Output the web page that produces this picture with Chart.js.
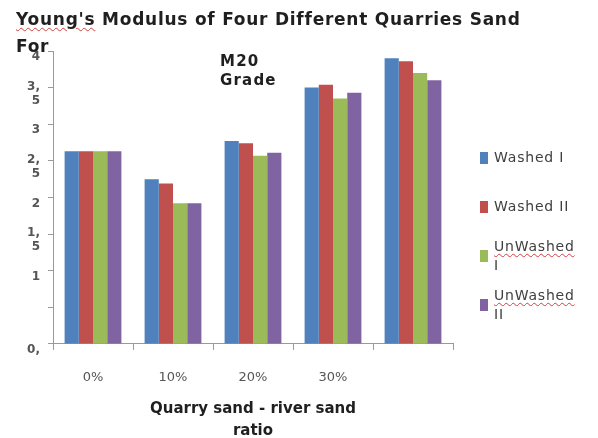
<!DOCTYPE html>
<html>
<head>
<meta charset="utf-8">
<script src="https://cdn.jsdelivr.net/npm/chart.js@4.4.1/dist/chart.umd.min.js"></script>
<style>
  html, body { margin: 0; padding: 0; background: #fff; }
  #wrap { position: relative; width: 598px; height: 438px; font-family: 'DejaVu Sans', sans-serif; color: #1f1f1f; }
  #wrap canvas { position: absolute; left: 0; top: 0; }
  .title { position: absolute; left: 16px; top: 6px; font-weight: bold; font-size: 17px; letter-spacing: 0.75px; line-height: 27px; white-space: nowrap; }
  .grade { position: absolute; left: 220px; top: 52px; font-weight: bold; font-size: 15px; letter-spacing: 1.2px; line-height: 19px; }
  .spell { text-decoration: underline wavy #d04040; text-decoration-thickness: 1px; text-underline-offset: 2px; }
  #legend { position: absolute; left: 480px; top: 133px; width: 118px; }
  .item { display: flex; align-items: center; height: 49px; }
  .box { width: 8px; height: 12px; margin-right: 6px; flex: none; }
  .txt { font-size: 14px; letter-spacing: 0.8px; line-height: 19px; color: #404040; white-space: nowrap; }
</style>
</head>
<body>
<div id="wrap">
  <canvas id="chart" width="598" height="438"></canvas>
  <div class="title"><span class="spell">Young's</span> Modulus of Four Different Quarries Sand<br>For</div>
  <div class="grade">M20<br>Grade</div>
  <div id="legend"></div>
</div>
<script>
// categories (the fifth label is cut off in the source)
const categories = ['0%', '10%', '20%', '30%', ''];
const seriesNames = ['Washed I', 'Washed II', 'UnWashed I', 'UnWashed II'];
const seriesColors = ['#4F81BD', '#C0504D', '#9BBB59', '#8064A2'];

// Young's modulus values per series
const washedI = [2.63, 2.25, 2.77, 3.50, 3.90];
const washedII = [2.63, 2.19, 2.74, 3.54, 3.86];
const unwashedI = [2.63, 1.92, 2.57, 3.35, 3.70];
const unwashedII = [2.63, 1.92, 2.61, 3.43, 3.60];

// y tick values and how they are printed
const yTickValues = [0, 0.5, 1, 1.5, 2, 2.5, 3, 3.5, 4];
const yTickLabels = ['0,', '', '1', '1,5', '2', '2,5', '3', '3,5', '4'];

const seriesValues = [washedI, washedII, unwashedI, unwashedII];

const chart = new Chart(document.getElementById('chart'), {
    type: 'bar',
    data: {
        labels: categories,
        datasets: seriesNames.map((name, i) => ({
            label: name,
            data: seriesValues[i],
            backgroundColor: seriesColors[i],
            borderWidth: 0,
            categoryPercentage: 0.71,
            barPercentage: 1.0
        }))
    },
    options: {
        responsive: false,
        animation: false,
        layout: {
            padding: { left: 8, right: 145, top: 51, bottom: -4 }
        },
        plugins: {
            legend: { display: false },
            tooltip: { enabled: false }
        },
        scales: {
            y: {
                min: 0,
                max: 4,
                afterFit: s => { s.width = 45; },
                afterBuildTicks: s => { s.ticks = yTickValues.map(v => ({ value: v })); },
                ticks: {
                    padding: 8,
                    labelOffset: 6,
                    color: '#555',
                    font: { family: 'DejaVu Sans', size: 12, weight: 'bold' },
                    callback: (v) => {
                        const t = yTickLabels[yTickValues.indexOf(v)] || '';
                        return t.length > 2 ? [t.slice(0, 2), t.slice(2)] : t;
                    }
                },
                grid: {
                    drawOnChartArea: false,
                    tickLength: 5,
                    color: '#999'
                },
                border: { color: '#999' }
            },
            x: {
                ticks: {
                    padding: 20,
                    color: '#555',
                    font: { family: 'DejaVu Sans', size: 13 }
                },
                grid: {
                    drawOnChartArea: false,
                    tickLength: 6,
                    color: '#999'
                },
                border: { color: '#999' },
                title: {
                    display: true,
                    text: ['Quarry sand - river sand', 'ratio'],
                    color: '#1f1f1f',
                    font: { family: 'DejaVu Sans', size: 15, weight: 'bold', lineHeight: 1.45 },
                    padding: { top: -7, bottom: 0 }
                }
            }
        }
    }
});

// Legend built from the datasets
const legend = document.getElementById('legend');
chart.data.datasets.forEach(ds => {
    const item = document.createElement('div');
    item.className = 'item';
    const box = document.createElement('span');
    box.className = 'box';
    box.style.background = ds.backgroundColor;
    const txt = document.createElement('span');
    txt.className = 'txt';
    const name = ds.label;
    if (name.startsWith('UnWashed')) {
        const parts = name.split(' ');
        txt.innerHTML = '<span class="spell">' + parts[0] + '</span><br>' + parts[1];
    } else {
        txt.textContent = name;
    }
    item.appendChild(box);
    item.appendChild(txt);
    legend.appendChild(item);
});
</script>
</body>
</html>
